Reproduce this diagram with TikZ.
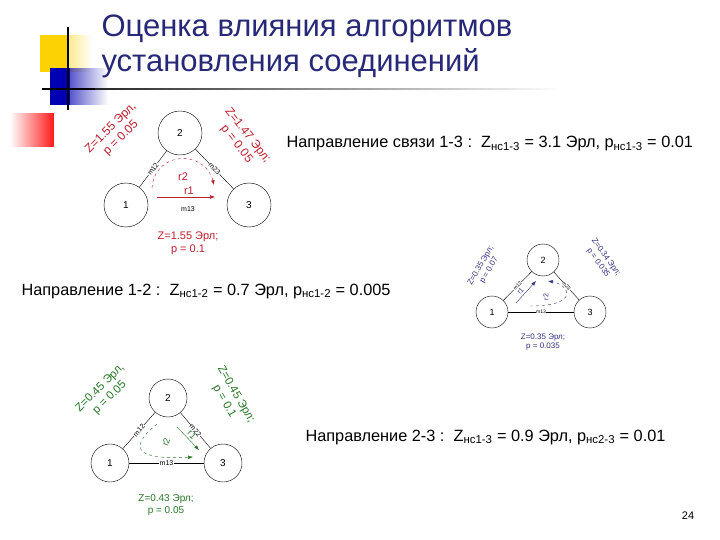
\documentclass[tikz,border=0pt]{standalone}
\usepackage{fontspec}
\setmainfont{Liberation Sans}
\usetikzlibrary{arrows.meta,fadings}
\definecolor{dred}{RGB}{190,30,45}
\definecolor{dblue}{RGB}{50,50,130}
\definecolor{dgreen}{RGB}{40,120,40}
\definecolor{ttl}{RGB}{40,40,120}
\begin{document}
\begin{tikzpicture}[x=1pt,y=-1pt,
  vert/.style={circle,draw,thin,inner sep=0pt},
  edge/.style={thin},
  lab/.style={font=\fontsize{7}{7}\selectfont,inner sep=0.5pt},
  ztext/.style 2 args={align=center,font=\fontsize{#1}{#2}\selectfont},
  dirtext/.style={anchor=west,font=\fontsize{16.3}{16.3}\selectfont}]
\useasboundingbox (0,0) rectangle (720,540);
\fill[white] (0,0) rectangle (720,540);
% decoration
\fill[yellow!70!orange,path fading=east] (40,35) rectangle (92,72);
\fill[yellow!70!orange] (40,35) rectangle (68,72);
\fill[blue!70!black,path fading=east] (50,68) rectangle (108,105);
\fill[blue!70!black] (50,68) rectangle (70,105);
\fill[red!90,path fading=west] (10,113) rectangle (54,147);
\draw[line width=1.3pt] (68,27) -- (68,110);
\draw[line width=1.3pt] (42,89) -- (95,89);
\fill[black!85,path fading=east] (95,88.3) rectangle (560,89.7);
\node[anchor=west,ttl,font=\fontsize{31}{35}\selectfont,align=left] (title) at (98,46) {Оценка влияния алгоритмов\\установления соединений};
% diagram 1
\node[vert,minimum size=44] (a2) at (180,133) {2};
\node[vert,minimum size=44] (a1) at (126,205) {1};
\node[vert,minimum size=44] (a3) at (249,205) {3};
\draw[edge] (a1) -- node[lab,sloped,fill=white]{m12} (a2);
\draw[edge] (a2) -- node[lab,sloped,fill=white]{m23} (a3);
\node[lab] (m13a) at (188,209) {m13};
\draw[dred,-{Latex}] (157,197) -- node[pos=0.55,above=-1pt,font=\fontsize{11}{11}\selectfont]{r1} (215,197);
\draw[dred,dashed,-{Latex}] (152,188) .. controls (155,150) and (205,150) .. (214,185);
\node[dred,font=\fontsize{11}{11}\selectfont] (r2a) at (183,177) {r2};
\node[dred,ztext={12}{14},rotate=45] (za12) at (116,133) {Z=1.55 Эрл,\\р = 0.05};
\node[dred,ztext={12}{14},rotate=-52] (za23) at (242,140) {Z=1.47 Эрл;\\р = 0.05};
\node[dred,ztext={11}{13}] (za13) at (188,243) {Z=1.55 Эрл;\\р = 0.1};
\node[dirtext] (d13) at (283,144) {Направление связи 1-3 :\ \ Z\textsubscript{нс1-3} = 3.1 Эрл, р\textsubscript{нс1-3} = 0.01};
% diagram 2
\node[vert,minimum size=32] (b2) at (543,260) {\small 2};
\node[vert,minimum size=32] (b1) at (492,312) {\small 1};
\node[vert,minimum size=32] (b3) at (590,312) {\small 3};
\draw[edge] (b1) -- node[lab,sloped,fill=white,font=\fontsize{5}{5}\selectfont]{m12} (b2);
\draw[edge] (b2) -- node[lab,sloped,fill=white,font=\fontsize{5}{5}\selectfont]{m23} (b3);
\draw[edge] (b1) -- node[lab,fill=white,font=\fontsize{5}{5}\selectfont]{m13} (b3);
\draw[dblue,-{Latex}] (516,303) -- node[pos=0.4,sloped,above=-1pt,font=\fontsize{7}{7}\selectfont]{r1} (536,281);
\draw[dblue,dashed,-{Latex}] (530,306) .. controls (580,306) and (570,285) .. (548,281);
\node[dblue,font=\fontsize{7}{7}\selectfont,rotate=90] (r2b) at (546,297) {r2};
\node[dblue,ztext={8}{9.5},rotate=60] (zb12) at (485,268) {Z=0.35 Эрл;\\р = 0.07};
\node[dblue,ztext={8}{9.5},rotate=-55] (zb23) at (602,260) {Z=0.34 Эрл;\\р = 0.035};
\node[dblue,ztext={8}{9.5}] (zb13) at (543,342) {Z=0.35 Эрл;\\р = 0.035};
\node[dirtext] (d12) at (18,291) {Направление 1-2 :\ \ Z\textsubscript{нс1-2} = 0.7 Эрл, р\textsubscript{нс1-2} = 0.005};
% diagram 3
\node[vert,minimum size=38] (c2) at (168,398) {2};
\node[vert,minimum size=38] (c1) at (110,463) {1};
\node[vert,minimum size=38] (c3) at (223,463) {3};
\draw[edge] (c1) -- node[lab,sloped,fill=white]{m12} (c2);
\draw[edge] (c2) -- node[lab,sloped,fill=white]{m22} (c3);
\draw[edge] (c1) -- node[lab,fill=white]{m13} (c3);
\draw[dgreen,-{Latex}] (177,427) -- node[pos=0.5,sloped,above=-1pt,font=\fontsize{9}{9}\selectfont]{r1} (199,450);
\draw[dgreen,dashed,-{Latex}] (157,424) .. controls (125,450) and (140,460) .. (193,457);
\node[dgreen,font=\fontsize{9}{9}\selectfont,rotate=70] (r2c) at (166,442) {r2};
\node[dgreen,ztext={11.5}{13.5},rotate=45] (zc12) at (105,393) {Z=0.45 Эрл,\\р = 0.05};
\node[dgreen,ztext={11.5}{13.5},rotate=-60] (zc23) at (230,398) {Z=0.45 Эрл;\\р = 0.1};
\node[dgreen,ztext={10}{12}] (zc13) at (166,505) {Z=0.43 Эрл;\\р = 0.05};
\node[dirtext] (d23) at (302,437) {Направление 2-3 :\ \ Z\textsubscript{нс1-3} = 0.9 Эрл, р\textsubscript{нс2-3} = 0.01};
\node[font=\fontsize{11}{11}\selectfont] (pg) at (688,516) {24};
\end{tikzpicture}
\end{document}
